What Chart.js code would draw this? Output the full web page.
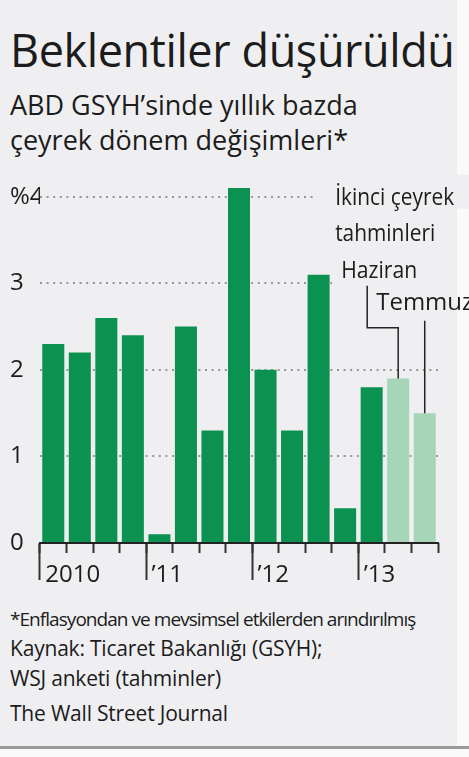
<!DOCTYPE html>
<html lang="tr">
<head>
<meta charset="utf-8">
<script src="https://cdn.jsdelivr.net/npm/chart.js@4/dist/chart.umd.min.js"></script>
<style>
  html, body { margin: 0; padding: 0; background: #f7f7f7; }
  #page { position: relative; width: 469px; height: 757px; overflow: hidden; background: #fafafa; font-family: "Open Sans", sans-serif; color: #1c1c1c; }
  #panel { position: absolute; left: 0; top: 0; width: 457px; height: 746px; background: #efeff1; }
  #rule { position: absolute; left: 0; top: 746px; width: 469px; height: 3px; background: #999; }
  .t { position: absolute; left: 10px; white-space: nowrap; line-height: 1; }
  #title { top: 27px; font-size: 45px; letter-spacing: -0.4px; }
  .sub { font-size: 27px; }
  .note { font-size: 19px; letter-spacing: -0.95px; }
  .src { font-size: 21px; letter-spacing: -0.2px; }
  canvas { position: absolute; left: 0; top: 165px; }
</style>
</head>
<body>
<div id="page">
  <div id="panel"></div>
  <div id="rule"></div>
  <div class="t" id="title">Beklentiler düşürüldü</div>
  <div class="t sub" style="top:91px">ABD GSYH’sinde yıllık bazda</div>
  <div class="t sub" style="top:126px">çeyrek dönem değişimleri*</div>
  <canvas id="chart" width="469" height="430"></canvas>
  <div class="t note" style="top:610px">*Enflasyondan ve mevsimsel etkilerden arındırılmış</div>
  <div class="t src" style="top:638px">Kaynak: Ticaret Bakanlığı (GSYH);</div>
  <div class="t src" style="top:668px">WSJ anketi (tahminler)</div>
  <div class="t src" style="top:703px">The Wall Street Journal</div>
</div>
<script>
// çeyrekler: 2010 Ç1 .. 2013 Ç1 gerçekleşen, son ikisi 2013 Ç2 tahminleri
const quarters = ["2010 Ç1","2010 Ç2","2010 Ç3","2010 Ç4","2011 Ç1","2011 Ç2","2011 Ç3","2011 Ç4",
                  "2012 Ç1","2012 Ç2","2012 Ç3","2012 Ç4","2013 Ç1","2013 Ç2 Haziran","2013 Ç2 Temmuz"];
const gdpChange = [2.3, 2.2, 2.6, 2.4, 0.1, 2.5, 1.3, 4.1, 2.0, 1.3, 3.1, 0.4, 1.8, 1.9, 1.5];
const isForecast = [false,false,false,false,false,false,false,false,false,false,false,false,false,true,true];
const yearLabels = ["2010","","","","’11","","","","’12","","","","’13","",""];
const yTickValues = [0, 1, 2, 3, 4];
const yTickLabels = ["0", "1", "2", "3", "%4"];
const forecastTitle = ["İkinci çeyrek", "tahminleri"];
const forecastNames = ["Haziran", "Temmuz"];

const DARK = "#0b9150", LIGHT = "#a6d5b7", BG = "#efeff1", INK = "#1c1c1c";
const FONT = "'Open Sans', sans-serif";

// dar yazı: yatayda sıkıştırılmış metin
function narrowText(ctx, text, x, y, sx){
  ctx.save();
  ctx.translate(x, y);
  ctx.scale(sx, 1);
  ctx.fillText(text, 0, 0);
  ctx.restore();
}

const forecastNotes = {
  id: "forecastNotes",
  afterDatasetsDraw(chart){
    const {ctx} = chart;
    const xs = chart.scales.x, ys = chart.scales.y;
    const i1 = isForecast.indexOf(true), i2 = i1 + 1;
    const x1 = xs.getPixelForValue(i1), x2 = xs.getPixelForValue(i2);
    const y4 = ys.getPixelForValue(4);
    const tx = xs.getPixelForValue(i1 - 2) - 10;
    ctx.save();
    // arka plan: izgara çizgilerini yazıların altında gizle
    ctx.fillStyle = BG;
    ctx.fillRect(tx - 18, y4 - 22, chart.width - tx + 18, 34);
    ctx.fillRect(x1 - 66, y4 + 62, xs.right - x1 + 66, 34);
    ctx.fillStyle = INK;
    ctx.font = "24px " + FONT;
    ctx.textBaseline = "alphabetic";
    narrowText(ctx, forecastTitle[0], tx, y4 + 8, 0.87);
    narrowText(ctx, forecastTitle[1], tx, y4 + 44, 0.87);
    ctx.font = "23px " + FONT;
    narrowText(ctx, forecastNames[0], x1 - 57, y4 + 81, 0.92);
    ctx.font = "24px " + FONT;
    narrowText(ctx, forecastNames[1], x1 - 22, y4 + 113, 1);
    ctx.strokeStyle = "#222";
    ctx.lineWidth = 1.5;
    ctx.beginPath();
    ctx.moveTo(x1 - 31, y4 + 89);
    ctx.lineTo(x1 - 31, y4 + 131);
    ctx.lineTo(x1, y4 + 131);
    ctx.lineTo(x1, ys.getPixelForValue(gdpChange[i1]));
    ctx.moveTo(x2, y4 + 124);
    ctx.lineTo(x2, ys.getPixelForValue(gdpChange[i2]));
    ctx.stroke();
    ctx.restore();
  }
};

new Chart(document.getElementById("chart"), {
  type: "bar",
  data: {
    labels: quarters,
    datasets: [{
      data: gdpChange,
      backgroundColor: isForecast.map(f => f ? LIGHT : DARK),
      borderWidth: 0,
      categoryPercentage: 1,
      barPercentage: 0.83
    }]
  },
  options: {
    responsive: false,
    animation: false,
    devicePixelRatio: 1,
    layout: { padding: { left: 10, right: 31, top: 12, bottom: 0 } },
    plugins: { legend: { display: false }, tooltip: { enabled: false } },
    scales: {
      x: {
        offset: true,
        grid: {
          offset: true, drawOnChartArea: false, tickLength: 37, tickWidth: 2,
          tickColor: c => yearLabels[c.index] ? "#333" : "transparent"
        },
        border: { display: true, color: "#222", width: 2 },
        ticks: {
          autoSkip: false, maxRotation: 0, align: "start", labelOffset: -8, padding: -19,
          color: INK, font: { family: FONT, size: 24 },
          callback: (v, i) => yearLabels[i]
        },
        afterFit: s => { s.height = 52; }
      },
      x2: {
        type: "category",
        position: { y: 0 },
        offset: true,
        grid: { offset: true, drawOnChartArea: false, tickLength: 10, tickWidth: 2, tickColor: "#333" },
        border: { display: false },
        ticks: { display: false }
      },
      y: {
        min: 0, max: 4.2,
        afterBuildTicks: s => { s.ticks = yTickValues.map(v => ({ value: v })); },
        afterFit: s => { s.width = 30; },
        border: { display: false, dash: [2, 4.6] },
        grid: {
          drawTicks: false, lineWidth: 2,
          color: c => c.tick && c.tick.value === 0 ? "transparent" : "#959595"
        },
        ticks: {
          crossAlign: "far", padding: 0, color: INK, font: { family: FONT, size: 24 },
          callback: (v, i) => yTickLabels[yTickValues.indexOf(v)]
        }
      }
    }
  },
  plugins: [forecastNotes]
});
</script>
</body>
</html>
